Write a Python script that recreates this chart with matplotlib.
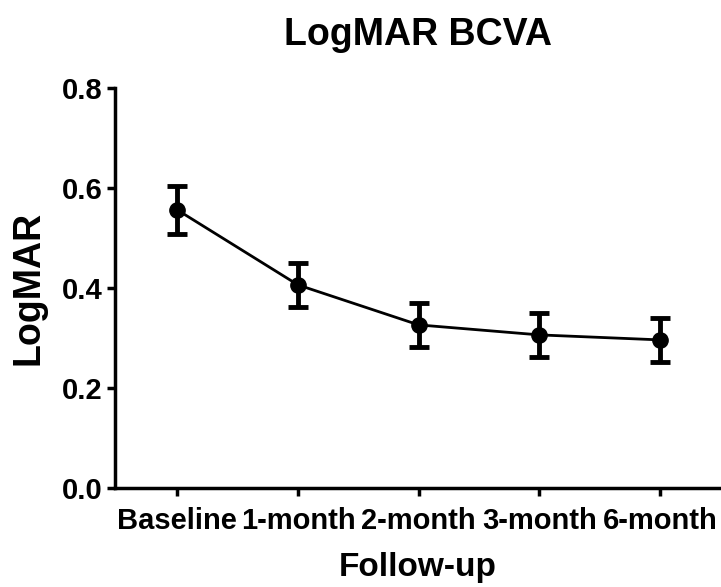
import matplotlib.pyplot as plt

# Follow-up time points and LogMAR BCVA (mean +/- error)
visits = ["Baseline", "1-month", "2-month", "3-month", "6-month"]
logmar = [0.556, 0.406, 0.326, 0.306, 0.296]
err = [0.048, 0.044, 0.044, 0.044, 0.044]

plt.rcParams['font.family'] = ['Liberation Sans', 'DejaVu Sans']
plt.rcParams['font.weight'] = 'bold'

fig = plt.figure(figsize=(7.21, 5.87), dpi=100)
ax = fig.add_axes([0.159, 0.169, 0.84, 0.681])

x = range(len(visits))
ax.errorbar(x, logmar, yerr=err, color='black', marker='o', markersize=11,
            linewidth=2, elinewidth=3.5, capsize=7, capthick=3.5)

ax.set_xlim(-0.52, 4.5)
ax.set_ylim(0, 0.8)
ax.set_yticks([0.0, 0.2, 0.4, 0.6, 0.8])
ax.set_yticklabels(["0.0", "0.2", "0.4", "0.6", "0.8"])
ax.set_xticks(list(x))
ax.set_xticklabels(visits)

for side in ['top', 'right']:
    ax.spines[side].set_visible(False)
for side in ['left', 'bottom']:
    ax.spines[side].set_linewidth(2.5)
ax.tick_params(width=2.5, length=6, labelsize=21)
ax.tick_params(axis='x', pad=8)
ax.tick_params(axis='y', pad=3)

ax.set_ylabel("LogMAR", fontsize=27, fontweight='bold', labelpad=11)
ax.set_xlabel("Follow-up", fontsize=24, fontweight='bold', labelpad=12)
fig.text(0.58, 1 - 45 / 587, "LogMAR BCVA", fontsize=27, fontweight='bold',
         ha='center', va='baseline')

fig.savefig("out.png", dpi=100)
